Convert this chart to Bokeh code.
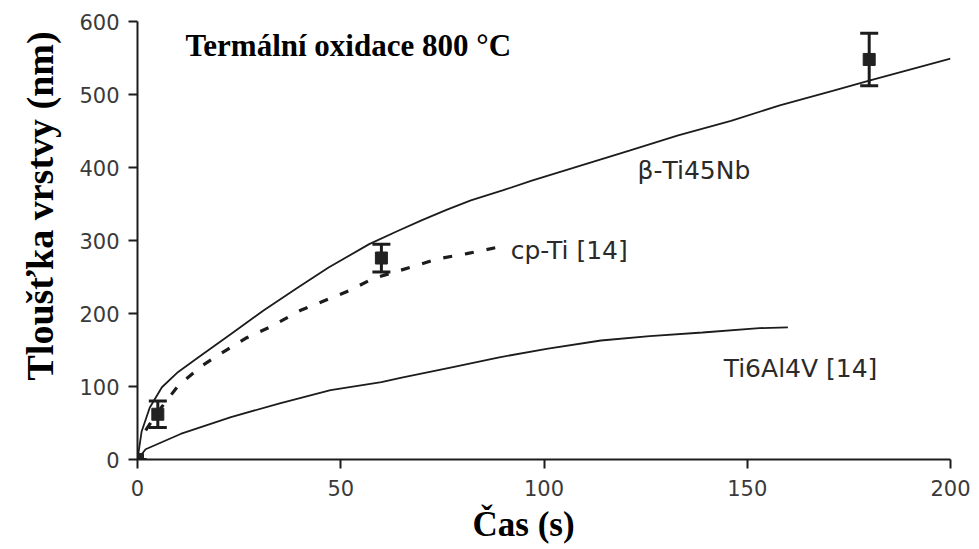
from bokeh.embed import file_html
from bokeh.models import ColumnDataSource, Label, Range1d, TeeHead, Whisker, FixedTicker, Title
from bokeh.plotting import figure
from bokeh.resources import INLINE

# Measured oxide thickness (nm) after thermal oxidation at 800 °C
meas_t = [0, 5, 60, 180]
meas_d = [0, 62, 276, 548]
meas_err = [0, 18, 19, 36]

# beta-Ti45Nb fitted growth curve
nb_t = [0, 1, 3, 6, 10, 15, 23, 31, 39, 47, 57, 64, 70, 76, 82, 90, 97, 107, 121, 133, 146, 158, 171, 180, 190, 200]
nb_d = [0, 38, 71, 99, 120, 140, 172, 204, 234, 263, 295, 313, 328, 342, 355, 369, 382, 399, 423, 444, 464, 485, 505, 519, 534, 549]

# cp-Ti [14]
cp_t = [2, 5, 10, 16, 20.5, 26.6, 32.8, 40, 48, 52, 58, 67, 74, 81, 88]
cp_d = [40, 65, 101, 129, 145, 166, 182, 204, 222, 231, 248, 263, 275, 282, 290]

# Ti6Al4V [14]
al_t = [0, 2, 10.6, 23, 35, 47.5, 60, 65, 77, 89, 101, 114, 126, 139, 153, 160]
al_d = [0, 14, 35, 58, 77, 95, 106, 112, 126, 140, 152, 163, 169, 174, 180, 181]

x_ticks = [0, 50, 100, 150, 200]
y_ticks = [0, 100, 200, 300, 400, 500, 600]

INK = "#1c1c1c"
TICK_GREY = "#3a3a3a"

p = figure(
    width=979, height=549,
    x_range=Range1d(0, 200), y_range=Range1d(0, 600),
    output_backend="svg", toolbar_location=None,
    min_border_left=137, min_border_right=29,
    min_border_top=21, min_border_bottom=90,
)
p.outline_line_color = None
p.grid.visible = False
p.background_fill_color = "white"
p.border_fill_color = "white"

for ax in (p.xaxis, p.yaxis):
    ax.axis_line_color = INK
    ax.axis_line_width = 2
    ax.major_tick_line_color = INK
    ax.major_tick_line_width = 2
    ax.major_tick_in = 0
    ax.major_tick_out = 9
    ax.minor_tick_line_color = None
    ax.major_label_text_font = "DejaVu Sans"
    ax.major_label_text_font_size = "21px"
    ax.major_label_text_color = TICK_GREY

p.xaxis.ticker = FixedTicker(ticks=x_ticks)
p.yaxis.ticker = FixedTicker(ticks=y_ticks)
p.xaxis.major_label_standoff = 11
p.yaxis.major_label_standoff = 9

# curves
p.line(nb_t, nb_d, line_color=INK, line_width=1.8)
p.line(al_t, al_d, line_color=INK, line_width=1.8)
p.line(cp_t, cp_d, line_color=INK, line_width=3.2, line_dash="9 13")

# measured points with error bars
src = ColumnDataSource(dict(
    t=meas_t, d=meas_d,
    lo=[d - e for d, e in zip(meas_d, meas_err)],
    hi=[d + e for d, e in zip(meas_d, meas_err)],
))
p.add_layout(Whisker(
    source=src, base="t", lower="lo", upper="hi", dimension="height",
    line_color=INK, line_width=3,
    lower_head=TeeHead(size=18, line_width=3, line_color=INK),
    upper_head=TeeHead(size=18, line_width=3, line_color=INK),
))
p.scatter("t", "d", source=src, marker="square", size=12,
          fill_color="#222222", line_color="#222222")

# curve labels
lab_style = dict(text_font="DejaVu Sans", text_font_size="25px",
                 text_color="#2a2a2a", text_baseline="alphabetic")
p.add_layout(Label(x=123.0, y=396, text="β-Ti45Nb", **lab_style))
p.add_layout(Label(x=91.8, y=286, text="cp-Ti [14]", **lab_style))
p.add_layout(Label(x=144.2, y=125, text="Ti6Al4V [14]", **lab_style))

# chart heading inside the plot area
p.add_layout(Label(x=11.8, y=567, text="Termální oxidace 800 °C",
                   text_font="Liberation Serif", text_font_style="bold",
                   text_font_size="31px", text_color="black",
                   text_baseline="alphabetic"))

# axis titles
p.add_layout(Title(text="Čas (s)", align="left", offset=335, standoff=8,
                   text_font="Liberation Serif", text_font_style="bold",
                   text_font_size="35px", text_color="black"), "below")
p.add_layout(Title(text="Tloušťka vrstvy (nm)", align="left", offset=79, standoff=31,
                   text_font="Liberation Serif", text_font_style="bold",
                   text_font_size="38px", text_color="black"), "left")

open("out.html", "w").write(file_html(p, INLINE))
